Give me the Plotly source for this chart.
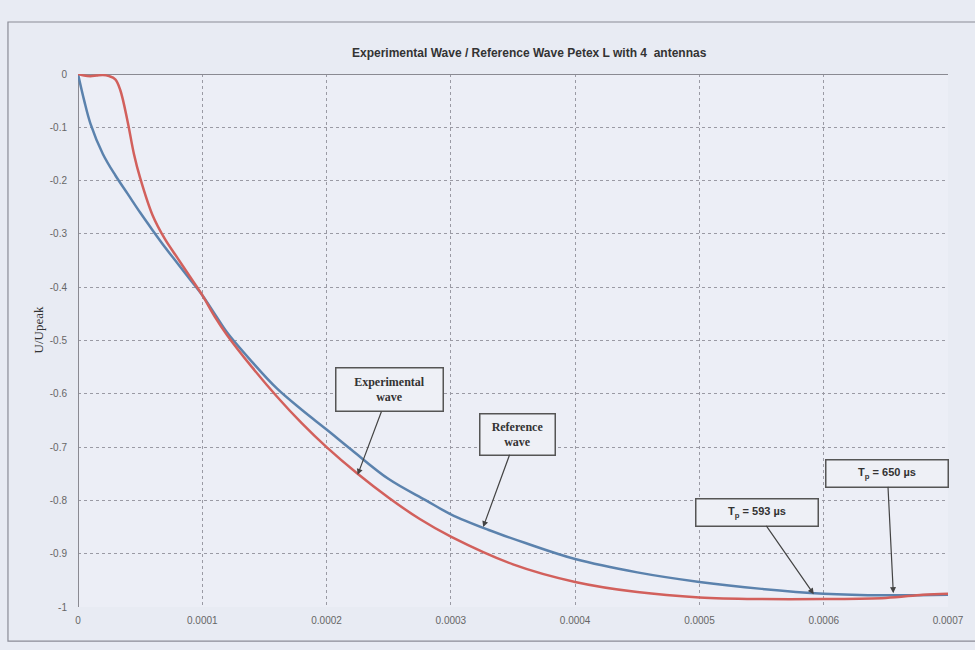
import plotly.graph_objects as go

# ---- data ----
exp_x = [0, 0.000005, 0.00001, 0.000015, 0.00002, 0.000025, 0.00003, 0.000034, 0.00004,
         0.000045, 0.00005, 0.00006, 0.00007, 0.00008, 0.00009, 0.0001, 0.00011, 0.00012,
         0.00014, 0.00016, 0.00018, 0.0002, 0.000225, 0.00025, 0.000275, 0.0003, 0.00035,
         0.0004, 0.00045, 0.0005, 0.00055, 0.0006, 0.00065, 0.00068, 0.0007]
exp_y = [0, -0.003, -0.004, -0.003, -0.002, -0.004, -0.01, -0.03, -0.09,
         -0.15, -0.195, -0.265, -0.31, -0.345, -0.38, -0.415, -0.455, -0.49,
         -0.55, -0.605, -0.655, -0.70, -0.75, -0.795, -0.835, -0.868, -0.92,
         -0.953, -0.972, -0.982, -0.985, -0.985, -0.983, -0.977, -0.975]

ref_x = [0, 0.000005, 0.00001, 0.00002, 0.00003, 0.00004, 0.00005, 0.00006, 0.00007,
         0.00008, 0.00009, 0.0001, 0.00011, 0.00012, 0.00014, 0.00016, 0.00018, 0.0002,
         0.00022, 0.00025, 0.00028, 0.0003, 0.00033, 0.00036, 0.0004, 0.00045, 0.0005,
         0.00055, 0.0006, 0.00065, 0.0007]
ref_y = [0, -0.05, -0.093, -0.15, -0.19, -0.225, -0.26, -0.293, -0.325,
         -0.355, -0.385, -0.415, -0.45, -0.485, -0.54, -0.59, -0.63, -0.667,
         -0.705, -0.76, -0.80, -0.826, -0.855, -0.88, -0.91, -0.935, -0.953,
         -0.966, -0.975, -0.978, -0.977]

x_ticks = [0, 0.0001, 0.0002, 0.0003, 0.0004, 0.0005, 0.0006, 0.0007]
x_labels = ["0", "0.0001", "0.0002", "0.0003", "0.0004", "0.0005", "0.0006", "0.0007"]
y_ticks = [0, -0.1, -0.2, -0.3, -0.4, -0.5, -0.6, -0.7, -0.8, -0.9, -1]
y_labels = ["0", "-0.1", "-0.2", "-0.3", "-0.4", "-0.5", "-0.6", "-0.7", "-0.8", "-0.9", "-1"]

title_text = "Experimental Wave / Reference Wave Petex L with 4  antennas"
y_title = "U/Upeak"

fig = go.Figure()
fig.add_trace(go.Scatter(x=ref_x, y=ref_y, mode="lines", name="Reference wave",
                         line=dict(color="#5b82ad", width=2.5), line_shape="spline"))
fig.add_trace(go.Scatter(x=exp_x, y=exp_y, mode="lines", name="Experimental wave",
                         line=dict(color="#d2605c", width=2.5), line_shape="spline"))

bg = "#e8ebf3"
fig.update_layout(
    width=975, height=650,
    margin=dict(l=78, r=27, t=74, b=43),
    paper_bgcolor=bg, plot_bgcolor="#eceef6",
    showlegend=False,
    font=dict(family="Liberation Sans, Arial", color="#555"),
)
fig.update_xaxes(range=[0, 0.0007], tickvals=x_ticks, ticktext=x_labels,
                 showgrid=True, gridcolor="#9a9aa4", griddash="dot", gridwidth=1,
                 zeroline=True, zerolinecolor="#8a8a92", zerolinewidth=1.2,
                 showline=False, ticks="", ticklabelstandoff=6,
                 tickfont=dict(size=10, color="#666"))
fig.update_yaxes(range=[-1, 0], tickvals=y_ticks, ticktext=y_labels,
                 showgrid=True, gridcolor="#9a9aa4", griddash="dot", gridwidth=1,
                 zeroline=True, zerolinecolor="#8a8a92", zerolinewidth=1.2,
                 showline=False, ticks="", ticklabelstandoff=10,
                 tickfont=dict(size=10, color="#666"))

fig.add_shape(type="rect", xref="paper", yref="paper", x0=-0.0805, x1=1.04, y0=-0.064, y1=1.0976,
              line=dict(color="#8a8c96", width=1.2), fillcolor="rgba(0,0,0,0)", layer="below")

fig.add_annotation(text="<b>" + title_text + "</b>", xref="paper", yref="paper",
                   x=(529 - 78) / 870, y=(607 - 44) / 533, showarrow=False,
                   font=dict(size=12, color="#333", family="Liberation Sans, Arial"))
fig.add_annotation(text=y_title, xref="paper", yref="paper", x=(28 - 78) / 870, y=(607 - 330) / 533,
                   showarrow=False, textangle=-90,
                   font=dict(size=13, color="#333", family="Liberation Serif, Times New Roman"))

box = dict(bordercolor="#555", borderwidth=1.5, bgcolor="#eef0f6", borderpad=3,
           arrowcolor="#444", arrowwidth=1.2, arrowhead=2, arrowsize=1, showarrow=True,
           xref="x", yref="y", axref="pixel", ayref="pixel")
serif = dict(size=12, color="#333", family="Liberation Serif, Times New Roman")
sans = dict(size=11, color="#333", family="Liberation Sans, Arial")

fig.add_annotation(text="<b>Experimental<br>wave</b>", x=0.000225, y=-0.752, ax=32, ay=-85,
                   width=100, height=36, font=serif, **box)
fig.add_annotation(text="<b>Reference<br>wave</b>", x=0.000326, y=-0.85, ax=34, ay=-93,
                   width=68, height=34, font=serif, **box)
fig.add_annotation(text="<b>T<sub>p</sub> = 593 µs</b>", x=0.000592, y=-0.976, ax=-57, ay=-82,
                   width=115, height=20, font=sans, **box)
fig.add_annotation(text="<b>T<sub>p</sub> = 650 µs</b>", x=0.000656, y=-0.974, ax=-6, ay=-120,
                   width=115, height=20, font=sans, **box)

fig.write_html("out.html", config={"displayModeBar": False},
               post_script="document.body.style.margin='0';document.body.style.background='#e8ebf3';")
